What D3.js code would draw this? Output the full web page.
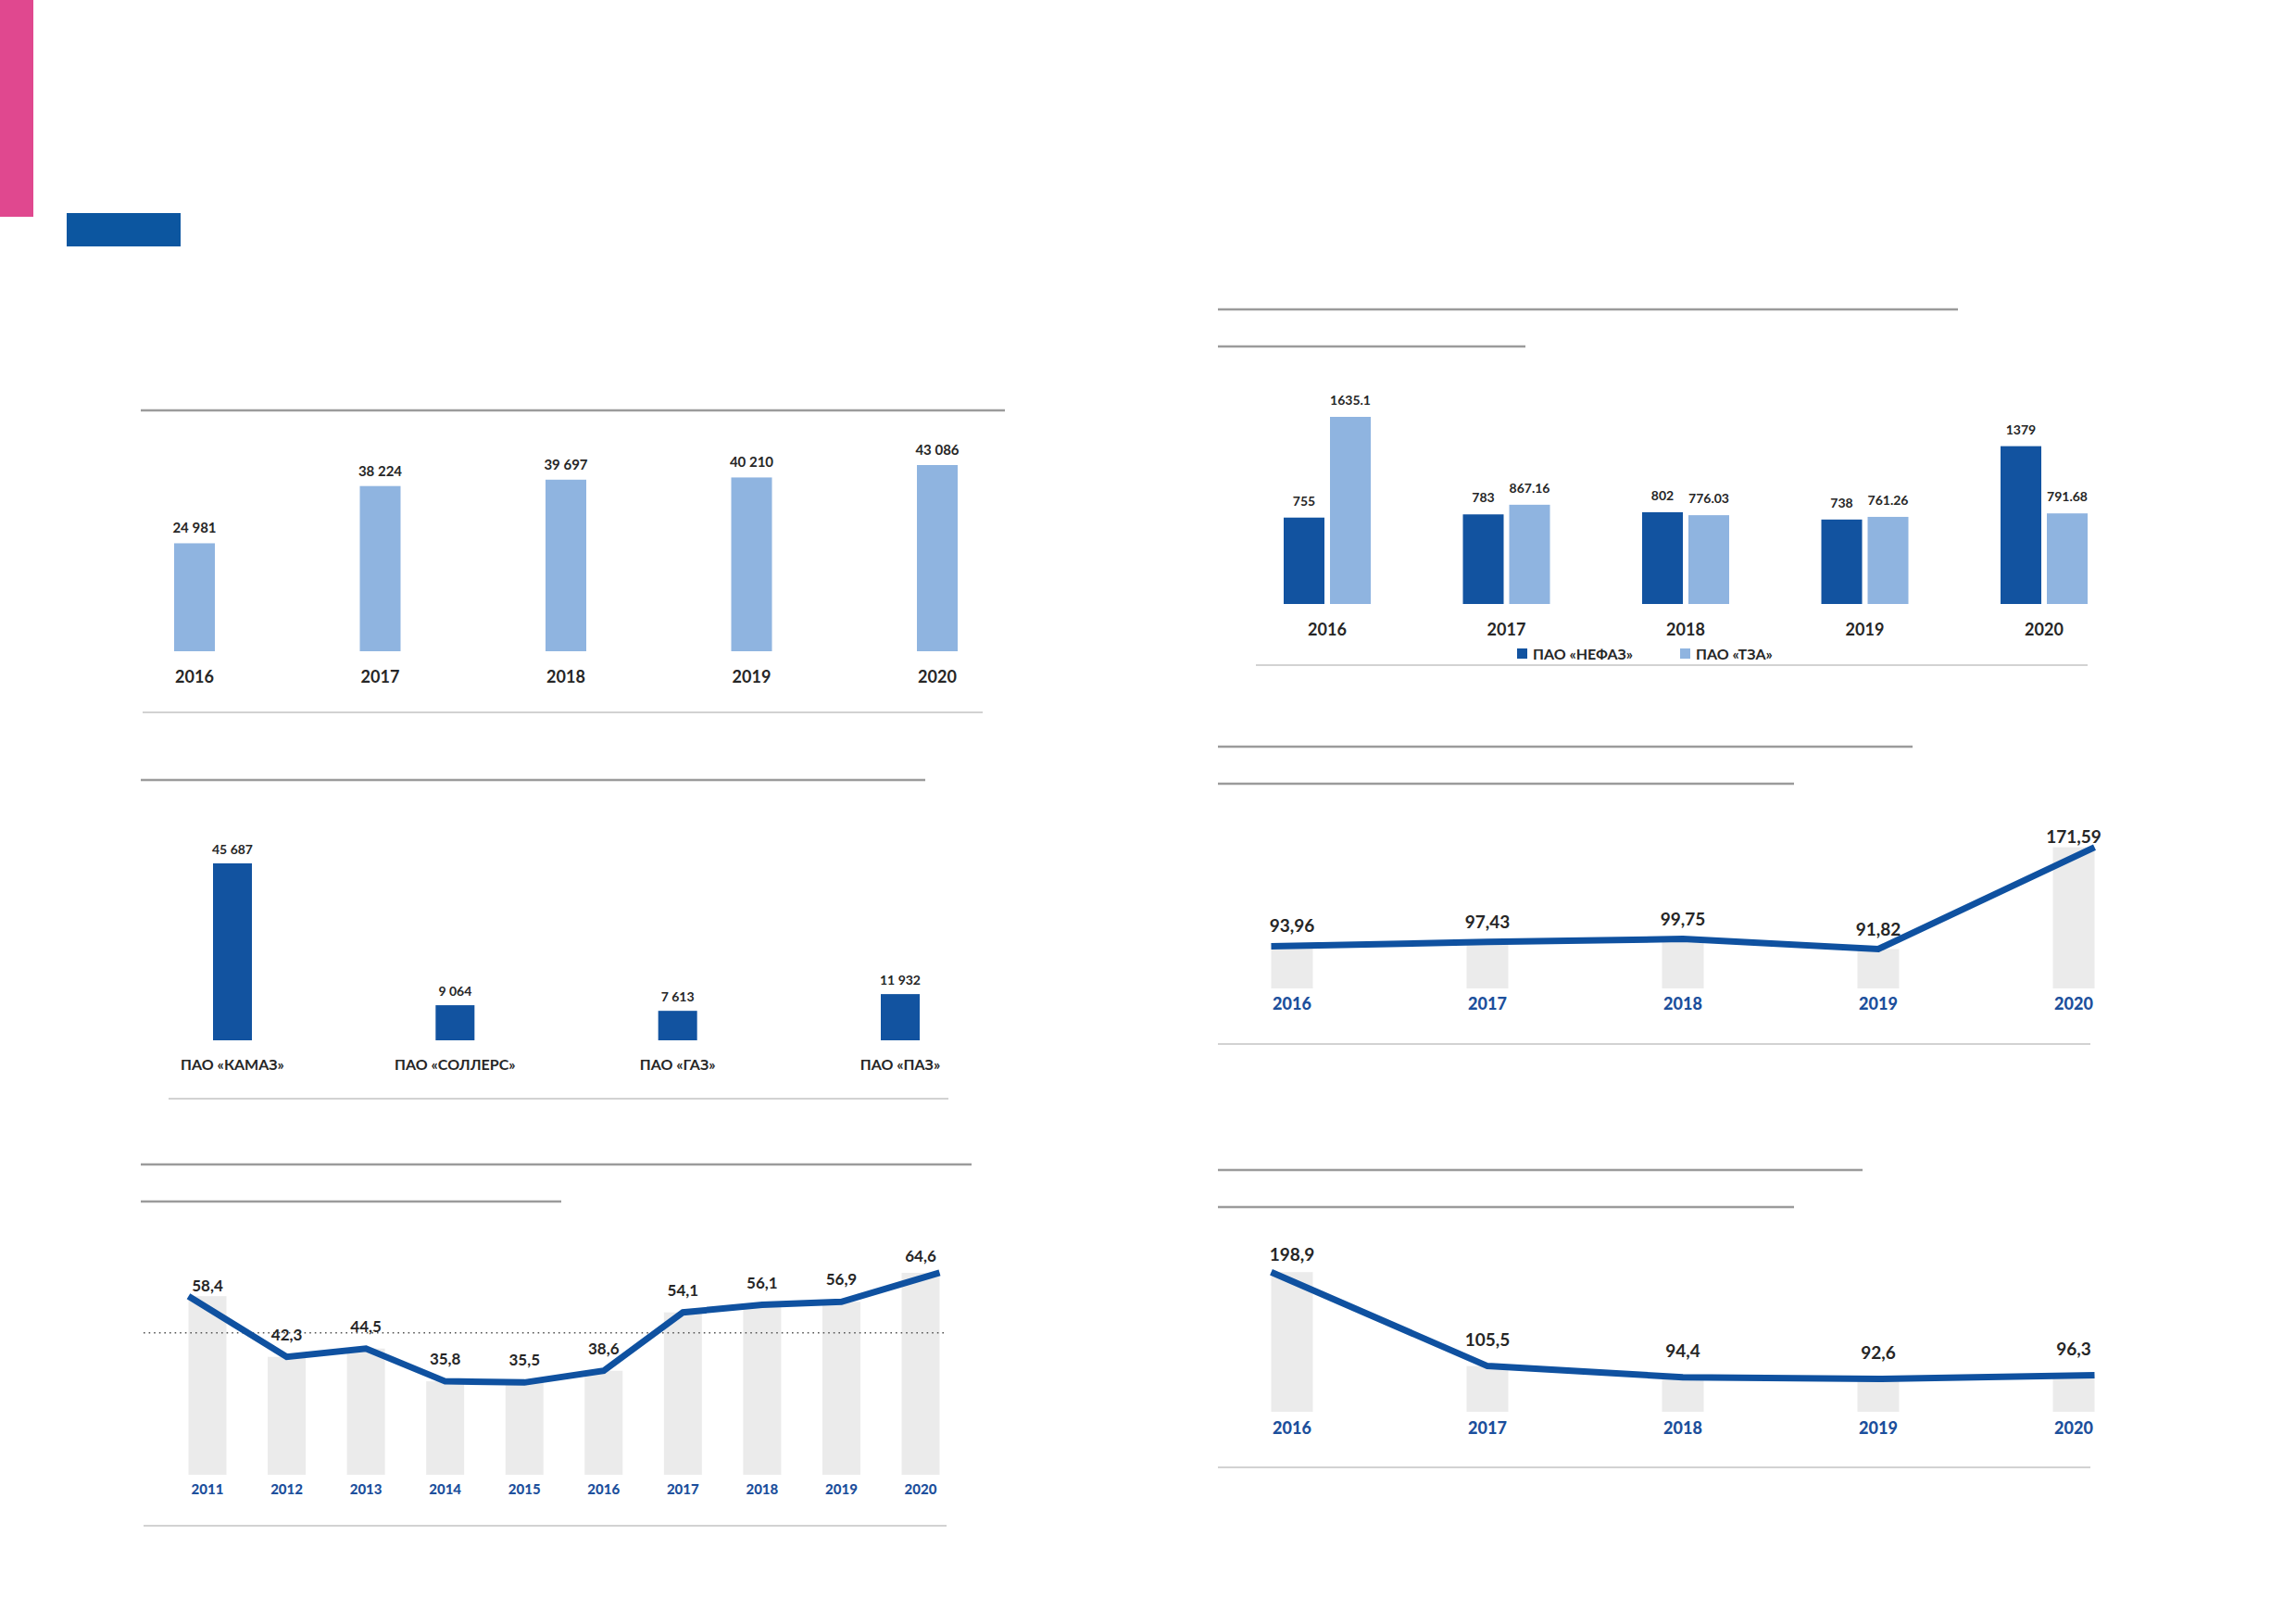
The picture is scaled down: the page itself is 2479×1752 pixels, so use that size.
<!DOCTYPE html>
<html>
<head>
<meta charset="utf-8">
<script src="https://cdn.jsdelivr.net/npm/d3@7"></script>
<style>
  body{margin:0;background:#fff;}
  svg{display:block;font-family:Lato,'Open Sans',sans-serif;}
</style>
</head>
<body>
<svg id="page" width="2479" height="1752"></svg>
<script>
/* Six small report charts on one page: bars, grouped bars and line-over-column panels. */

// panel 1 — bars by year
const salesYears = ['2016', '2017', '2018', '2019', '2020'];
const salesValues = [24981, 38224, 39697, 40210, 43086];

// panel 2 — bars by company
const makers = ['ПАО «КАМАЗ»', 'ПАО «СОЛЛЕРС»', 'ПАО «ГАЗ»', 'ПАО «ПАЗ»'];
const makerValues = [45687, 9064, 7613, 11932];

// panel 3 — line over columns, 2011–2020
const shareYears = ['2011', '2012', '2013', '2014', '2015', '2016', '2017', '2018', '2019', '2020'];
const shareValues = [58.4, 42.3, 44.5, 35.8, 35.5, 38.6, 54.1, 56.1, 56.9, 64.6];

// panel 4 — grouped bars
const groupYears = ['2016', '2017', '2018', '2019', '2020'];
const groupSeries = ['ПАО «НЕФАЗ»', 'ПАО «ТЗА»'];
const nefazValues = [755, 783, 802, 738, 1379];
const tzaValues = [1635.1, 867.16, 776.03, 761.26, 791.68];

// panels 5 and 6 — line over columns, 2016–2020
const indexYears = ['2016', '2017', '2018', '2019', '2020'];
const indexValues = [93.96, 97.43, 99.75, 91.82, 171.59];
const costValues = [198.9, 105.5, 94.4, 92.6, 96.3];

const DARK = '#1253a0', LIGHT = '#8fb4e0', LINE = '#0f51a0', COL = '#ebebeb';
const INK = '#262626', YEARBLUE = '#1c4f9c';

const loc = d3.formatLocale({decimal: ',', thousands: '\u00a0', grouping: [3], currency: ['', '']});
const fmtInt = loc.format(',d');
const fmt1 = loc.format('.1f');
const fmt2 = loc.format('.2f');

const svg = d3.select('#page');

// decorative page marks
svg.append('rect').attr('x', 0).attr('y', 0).attr('width', 36).attr('height', 234).attr('fill', '#e0488f');
svg.append('rect').attr('x', 72).attr('y', 230).attr('width', 123).attr('height', 36).attr('fill', '#0c56a0');

function rule(x1, x2, y, heavy){
  svg.append('line').attr('x1', x1).attr('x2', x2).attr('y1', y).attr('y2', y)
    .attr('stroke', heavy ? '#9b9b9b' : '#d2d2d2')
    .attr('stroke-width', heavy ? 2.5 : 2);
}

function text(g, x, y, str, size, weight, fill){
  return g.append('text').attr('x', x).attr('y', y)
    .attr('text-anchor', 'middle')
    .attr('font-size', size).attr('font-weight', weight)
    .attr('fill', fill).text(str);
}

/* ---------- panel 1 ---------- */
(function(){
  rule(152, 1085, 443, true);
  rule(154, 1061, 769, false);
  const g = svg.append('g');
  const x = d3.scalePoint().domain(salesYears).range([210, 1012]);
  const y = d3.scaleLinear().domain([0, d3.max(salesValues)]).range([703, 502]);
  const bw = 44;
  g.selectAll('rect').data(salesValues).join('rect')
    .attr('x', (d, i) => x(salesYears[i]) - bw / 2)
    .attr('y', d => y(d))
    .attr('width', bw)
    .attr('height', d => y(0) - y(d))
    .attr('fill', LIGHT);
  salesValues.forEach((v, i) => {
    text(g, x(salesYears[i]), y(v) - 11, fmtInt(v), 15, 700, INK);
    text(g, x(salesYears[i]), 737, salesYears[i], 18, 700, INK);
  });
})();

/* ---------- panel 2 ---------- */
(function(){
  rule(152, 999, 842, true);
  rule(182, 1024, 1186, false);
  const g = svg.append('g');
  const x = d3.scalePoint().domain(makers).range([251, 972]);
  const y = d3.scaleLinear().domain([0, d3.max(makerValues)]).range([1123, 932]);
  const bw = 42;
  g.selectAll('rect').data(makerValues).join('rect')
    .attr('x', (d, i) => x(makers[i]) - bw / 2)
    .attr('y', d => y(d))
    .attr('width', bw)
    .attr('height', d => y(0) - y(d))
    .attr('fill', DARK);
  makerValues.forEach((v, i) => {
    text(g, x(makers[i]), y(v) - 10, fmtInt(v), 14, 700, INK);
    text(g, x(makers[i]), 1155, makers[i], 16, 700, INK);
  });
})();

/* line-over-columns panel, used three times */
function linePanel(o){
  const g = svg.append('g');
  const x = d3.scalePoint().domain(o.years).range(o.xr);
  const y = d3.scaleLinear().domain(o.domain).range(o.yr);
  const bw = o.bw, n = o.values.length;
  const base = y(o.domain[0]);

  g.selectAll('rect').data(o.values).join('rect')
    .attr('x', (d, i) => x(o.years[i]) - bw / 2)
    .attr('y', d => y(d))
    .attr('width', bw)
    .attr('height', d => base - y(d))
    .attr('fill', COL);

  if(o.meanLine){
    const m = d3.mean(o.values);
    g.append('line')
      .attr('x1', o.meanLine[0]).attr('x2', o.meanLine[1])
      .attr('y1', y(m)).attr('y2', y(m))
      .attr('stroke', '#555').attr('stroke-width', 1.6)
      .attr('stroke-dasharray', '1.6,4');
  }

  // the stroke runs from the outer edge of the first column to the outer edge of the last
  const px = i => x(o.years[i]) + (i === 0 ? -bw / 2 : i === n - 1 ? bw / 2 : 0);
  const line = d3.line().x((d, i) => px(i)).y(d => y(d));
  g.append('path').datum(o.values)
    .attr('d', line)
    .attr('fill', 'none')
    .attr('stroke', LINE)
    .attr('stroke-width', 7)
    .attr('stroke-linejoin', 'miter');

  // height of the stroke above each column centre (end points sit on the column edges)
  const yAtCentre = i => {
    const yi = y(o.values[i]);
    if(i === 0) return yi + (y(o.values[1]) - yi) * (bw / 2) / (px(1) - px(0));
    if(i === n - 1) return yi + (y(o.values[n - 2]) - yi) * (bw / 2) / (px(n - 1) - px(n - 2));
    return yi;
  };

  o.values.forEach((v, i) => {
    text(g, x(o.years[i]), yAtCentre(i) - o.labelGap, o.fmt(v), o.valueSize, 700, INK);
    text(g, x(o.years[i]), o.yearY, o.years[i], o.yearSize, 900, YEARBLUE);
  });
}

/* ---------- panel 3 ---------- */
rule(152, 1049, 1257, true);
rule(152, 606, 1297, true);
rule(155, 1022, 1647, false);
linePanel({
  years: shareYears, values: shareValues,
  xr: [224, 994], bw: 41,
  domain: [11, 70], yr: [1592, 1352],
  meanLine: [155, 1020],
  labelGap: 18, valueSize: 17, fmt: fmt1,
  yearY: 1613, yearSize: 15
});

/* ---------- panel 4 ---------- */
(function(){
  rule(1315, 2114, 334, true);
  rule(1315, 1647, 374, true);
  rule(1356, 2254, 718, false);
  const g = svg.append('g');
  const x0 = d3.scalePoint().domain(groupYears).range([1433, 2207]);
  const x1 = d3.scaleBand().domain(groupSeries).range([-47, 47]).paddingInner(0.12);
  const y = d3.scaleLinear().domain([0, d3.max(tzaValues)]).range([652, 450]);
  const rows = groupYears.map((yr, i) => [
    {yr, s: groupSeries[0], v: nefazValues[i]},
    {yr, s: groupSeries[1], v: tzaValues[i]}
  ]).flat();
  g.selectAll('rect').data(rows).join('rect')
    .attr('x', d => x0(d.yr) + x1(d.s))
    .attr('y', d => y(d.v))
    .attr('width', x1.bandwidth())
    .attr('height', d => y(0) - y(d.v))
    .attr('fill', d => d.s === groupSeries[0] ? DARK : LIGHT);
  rows.forEach(d => {
    text(g, x0(d.yr) + x1(d.s) + x1.bandwidth() / 2, y(d.v) - 13, String(d.v), 14, 700, INK);
  });
  groupYears.forEach(yr => text(g, x0(yr), 686, yr, 18, 700, INK));

  // legend
  const lg = g.append('g').attr('font-size', 16).attr('font-weight', 700).attr('fill', INK);
  [[1638, groupSeries[0], DARK], [1814, groupSeries[1], LIGHT]].forEach(([lx, name, c]) => {
    lg.append('rect').attr('x', lx).attr('y', 700).attr('width', 11).attr('height', 11).attr('fill', c);
    lg.append('text').attr('x', lx + 17).attr('y', 712).text(name);
  });
})();

/* ---------- panel 5 ---------- */
rule(1315, 2065, 806, true);
rule(1315, 1937, 846, true);
rule(1315, 2257, 1127, false);
linePanel({
  years: indexYears, values: indexValues,
  xr: [1395, 2239], bw: 45,
  domain: [61, 180], yr: [1067, 903],
  labelGap: 15, valueSize: 19, fmt: fmt2,
  yearY: 1090, yearSize: 18
});

/* ---------- panel 6 ---------- */
rule(1315, 2011, 1263, true);
rule(1315, 1937, 1303, true);
rule(1315, 2257, 1584, false);
linePanel({
  years: indexYears, values: costValues,
  xr: [1395, 2239], bw: 45,
  domain: [60, 200], yr: [1524, 1372],
  labelGap: 22, valueSize: 19, fmt: fmt1,
  yearY: 1548, yearSize: 18
});
</script>
</body>
</html>
